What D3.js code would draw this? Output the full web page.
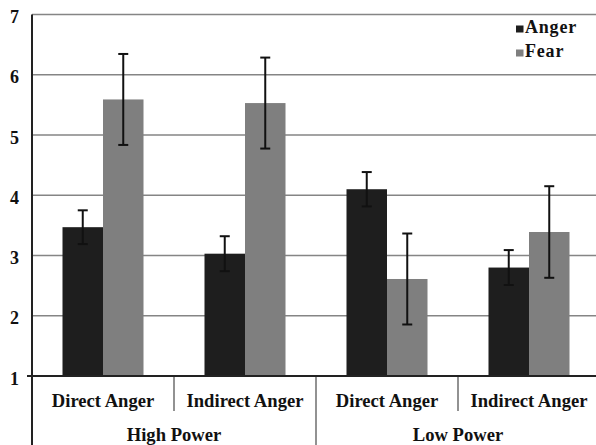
<!DOCTYPE html>
<html>
<head>
<meta charset="utf-8">
<script src="https://cdn.jsdelivr.net/npm/d3@7"></script>
<style>
  html, body { margin: 0; padding: 0; background: #fff; }
  svg { display: block; }
  text { font-family: "Liberation Serif", "Times New Roman", serif; font-weight: bold; fill: #111; }
</style>
</head>
<body>
<svg id="chart" width="596" height="445"></svg>
<script>
// ---- data ----
const categories = ["HP-Direct", "HP-Indirect", "LP-Direct", "LP-Indirect"];
const categoryLabels = ["Direct Anger", "Indirect Anger", "Direct Anger", "Indirect Anger"];
const groups = ["High Power", "Low Power"];
const series = ["Anger", "Fear"];
const angerValues = [3.47, 3.03, 4.10, 2.80];
const angerErrors = [0.28, 0.29, 0.285, 0.29];
const fearValues = [5.59, 5.53, 2.61, 3.39];
const fearErrors = [0.755, 0.755, 0.755, 0.76];
const yTicks = [1, 2, 3, 4, 5, 6, 7];
const colors = { Anger: "#1e1e1e", Fear: "#7f7f7f" };

const svg = d3.select("#chart");
const pLeft = 32, pRight = 600, pTop = 14.5, pBottom = 376;

const y = d3.scaleLinear().domain([1, 7]).range([pBottom, pTop]);
const x = d3.scaleBand().domain(categories).range([pLeft, pRight]).paddingInner(0).paddingOuter(0);
const xs = d3.scaleBand().domain(series).range([0, x.bandwidth()]).paddingInner(0).paddingOuter(0.753);
const xg = d3.scaleBand().domain(groups).range([pLeft, pRight]);

// gridlines
svg.append("g").selectAll("line").data(yTicks.filter(d => d > 1)).join("line")
  .attr("x1", pLeft).attr("x2", 596)
  .attr("y1", d => y(d)).attr("y2", d => y(d))
  .attr("stroke", "#858585").attr("stroke-width", 1.6);

// y tick labels
svg.append("g").selectAll("text").data(yTicks).join("text")
  .attr("x", 19).attr("y", d => y(d) + 8.5)
  .attr("text-anchor", "end")
  .style("font-size", "18px")
  .text(d => d);

// bars
const rows = categories.map((c, i) => ({ c, vals: [
  { s: "Anger", v: angerValues[i], e: angerErrors[i] },
  { s: "Fear", v: fearValues[i], e: fearErrors[i] }
]}));

const cat = svg.append("g").selectAll("g").data(rows).join("g")
  .attr("transform", d => `translate(${x(d.c)},0)`);

cat.selectAll("rect").data(d => d.vals).join("rect")
  .attr("x", d => xs(d.s)).attr("width", xs.bandwidth())
  .attr("y", d => y(d.v)).attr("height", d => y(1) - y(d.v))
  .attr("fill", d => colors[d.s]);

// error bars
const eb = cat.selectAll("g.err").data(d => d.vals).join("g").attr("class", "err");
eb.append("line")
  .attr("x1", d => xs(d.s) + xs.bandwidth() / 2).attr("x2", d => xs(d.s) + xs.bandwidth() / 2)
  .attr("y1", d => y(d.v + d.e)).attr("y2", d => y(d.v - d.e))
  .attr("stroke", "#111").attr("stroke-width", 2);
eb.selectAll("line.cap").data(d => [d.v + d.e, d.v - d.e].map(v => ({ s: d.s, v }))).join("line")
  .attr("class", "cap")
  .attr("x1", d => xs(d.s) + xs.bandwidth() / 2 - 5).attr("x2", d => xs(d.s) + xs.bandwidth() / 2 + 5)
  .attr("y1", d => y(d.v)).attr("y2", d => y(d.v))
  .attr("stroke", "#111").attr("stroke-width", 2);

// category separators (within groups)
svg.append("g").selectAll("line").data([categories[1], categories[3]]).join("line")
  .attr("x1", d => x(d)).attr("x2", d => x(d))
  .attr("y1", pBottom).attr("y2", 411)
  .attr("stroke", "#777").attr("stroke-width", 1.6);

// group separators
svg.append("g").selectAll("line").data(groups).join("line")
  .attr("x1", d => xg(d) + xg.bandwidth()).attr("x2", d => xg(d) + xg.bandwidth())
  .attr("y1", pBottom).attr("y2", 445)
  .attr("stroke", "#777").attr("stroke-width", 1.6);

// axes lines
svg.append("line").attr("x1", 27).attr("x2", 596).attr("y1", pBottom).attr("y2", pBottom)
  .attr("stroke", "#222").attr("stroke-width", 2);
svg.append("line").attr("x1", pLeft).attr("x2", pLeft).attr("y1", pTop).attr("y2", 445)
  .attr("stroke", "#222").attr("stroke-width", 2);

// category labels
svg.append("g").selectAll("text").data(categories).join("text")
  .attr("x", d => x(d) + x.bandwidth() / 2).attr("y", 406.5)
  .attr("text-anchor", "middle")
  .style("font-size", "18.6px")
  .text((d, i) => categoryLabels[i]);

// group labels
svg.append("g").selectAll("text").data(groups).join("text")
  .attr("x", d => xg(d) + xg.bandwidth() / 2).attr("y", 440.5)
  .attr("text-anchor", "middle")
  .style("font-size", "18.6px")
  .text(d => d);

// legend
const lg = svg.append("g").selectAll("g").data(series).join("g")
  .attr("transform", (d, i) => `translate(516,${25.5 + i * 24})`);
lg.append("rect").attr("width", 7.5).attr("height", 7).attr("fill", d => colors[d]);
lg.append("text").attr("x", 9).attr("y", 7.4)
  .style("font-size", "18px").style("letter-spacing", "0.8px")
  .text(d => d);
</script>
</body>
</html>
